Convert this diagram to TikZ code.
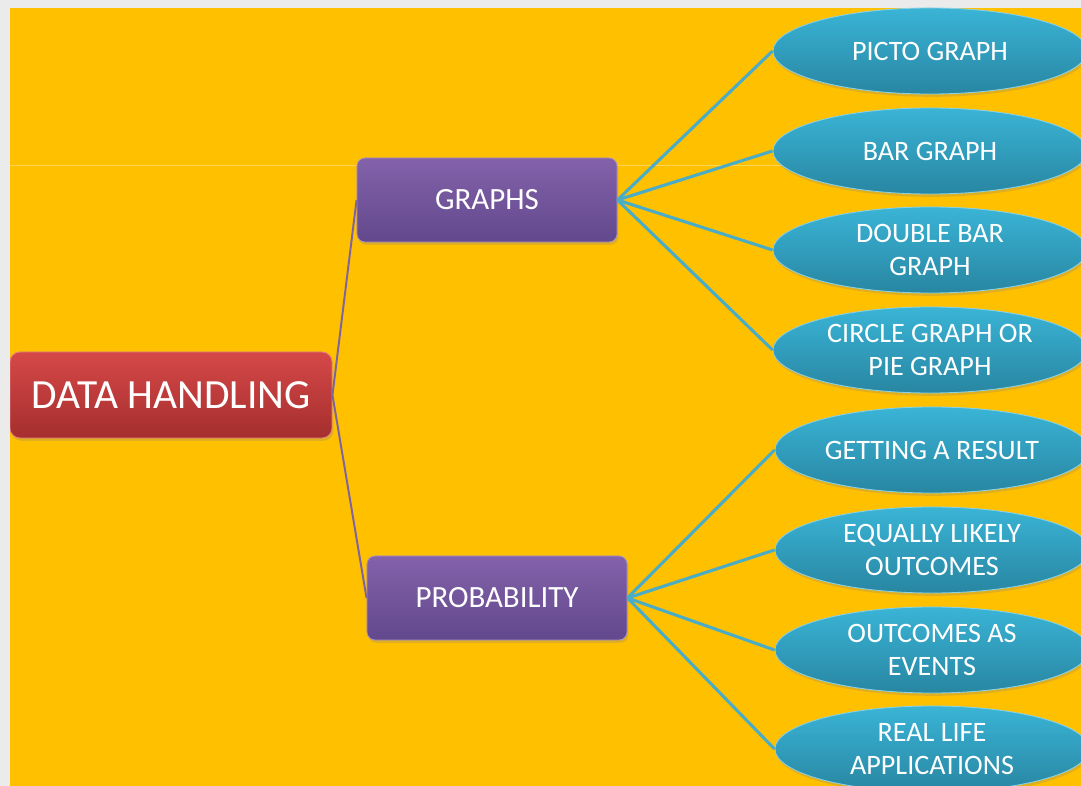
\documentclass[tikz,border=0pt]{standalone}
\usepackage{fontspec}
\setmainfont{Carlito}
\definecolor{dhGrey}{RGB}{235,235,235}
\definecolor{dhOrange}{RGB}{255,192,0}
\definecolor{dhRedTop}{RGB}{214,72,72}
\definecolor{dhRedBot}{RGB}{165,46,46}
\definecolor{dhPurpleTop}{RGB}{131,98,170}
\definecolor{dhPurpleBot}{RGB}{98,72,140}
\definecolor{dhCyanTop}{RGB}{58,180,214}
\definecolor{dhCyanBot}{RGB}{40,134,162}
\definecolor{dhCyanLine}{RGB}{75,172,198}
\definecolor{dhPurpleLine}{RGB}{128,100,162}
\usetikzlibrary{shapes.geometric,shadows}

\begin{document}
\begin{tikzpicture}[x=0.025cm, y=-0.025cm,
  root/.style={draw=dhRedTop!70!white, line width=0.6pt, rounded corners=0.25cm,
               top color=dhRedTop, bottom color=dhRedBot, text=white,
               minimum width=8.05cm, minimum height=2.15cm,
               font=\fontsize{29.5}{34}\selectfont,
               drop shadow={opacity=0.25, shadow xshift=1pt, shadow yshift=-2pt}},
  branch/.style={draw=dhPurpleTop!70!white, line width=0.6pt, rounded corners=0.2cm,
                 top color=dhPurpleTop, bottom color=dhPurpleBot, text=white,
                 minimum width=6.5cm, minimum height=2.1cm,
                 font=\fontsize{22}{26}\selectfont,
                 drop shadow={opacity=0.25, shadow xshift=1pt, shadow yshift=-2pt}},
  leaf/.style={ellipse, draw=dhCyanTop!60!white, line width=0.6pt, inner sep=0pt,
               top color=dhCyanTop, bottom color=dhCyanBot,
               minimum width=7.85cm, minimum height=2.15cm,
               drop shadow={opacity=0.25, shadow xshift=1pt, shadow yshift=-2pt}},
  leaftext/.style={text=white, align=center, font=\fontsize{20}{23}\selectfont},
  toBranch/.style={dhPurpleLine, line width=1.4pt},
  toLeaf/.style={dhCyanLine, line width=2.2pt}
]
  \useasboundingbox (0,0) rectangle (1081,786);
  \fill[dhGrey] (0,0) rectangle (1081,786);
  \fill[dhOrange] (10,8) rectangle (1081,786);
  \draw[white, opacity=0.35, line width=0.4pt] (10,165) -- (1081,165);
  \clip (10,8) rectangle (1081,786);

  % main topic and the two branches
  \node[root] (dh) at (171,395) {DATA HANDLING};
  \node[branch] (gr) at (487,200) {GRAPHS};
  \node[branch] (pr) at (497,598) {PROBABILITY};
  \draw[toBranch] (dh.east) -- (gr.west);
  \draw[toBranch] (dh.east) -- (pr.west);

  % graphs
  \foreach \y/\txt [count=\i] in {51/{PICTO GRAPH}, 151/{BAR GRAPH},
      250/{DOUBLE BAR\\GRAPH}, 350/{CIRCLE GRAPH OR\\PIE GRAPH}} {
    \node[leaf] (e\i) at (930,\y) {};
    \node[leaftext] (t\i) at (e\i) {\txt};
    \draw[toLeaf] (gr.east) -- (e\i.west);
  }

  % probability
  \foreach \y/\txt [count=\i from 5] in {450/{GETTING A RESULT},
      550/{EQUALLY LIKELY\\OUTCOMES}, 650/{OUTCOMES AS\\EVENTS},
      749/{REAL LIFE\\APPLICATIONS}} {
    \node[leaf] (e\i) at (932,\y) {};
    \node[leaftext] (t\i) at (e\i) {\txt};
    \draw[toLeaf] (pr.east) -- (e\i.west);
  }
\end{tikzpicture}
\end{document}
